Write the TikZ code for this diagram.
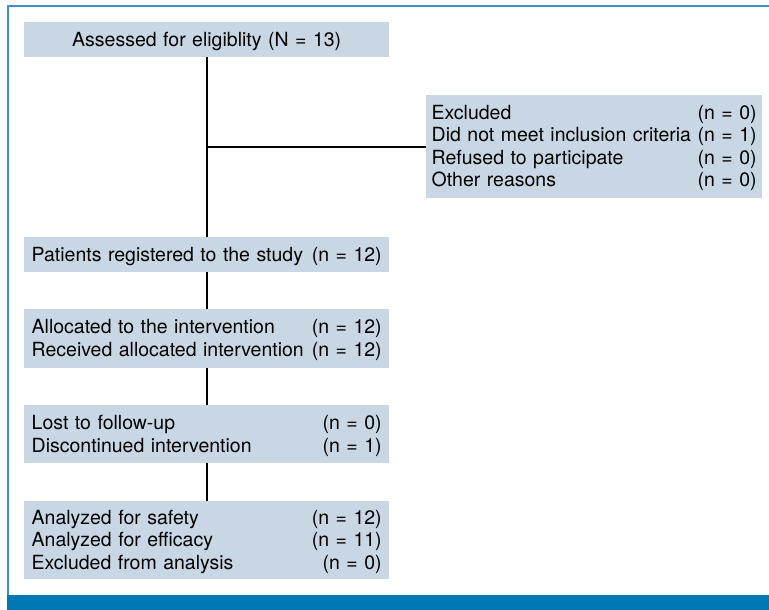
\documentclass[tikz,border=0pt]{standalone}
\usepackage{fontspec}
\setmainfont{TeX Gyre Heros}
\definecolor{boxfill}{HTML}{C9D6E3}
\definecolor{bandblue}{HTML}{0078B4}
\definecolor{frameblue}{HTML}{3A8FC6}
\begin{document}
\begin{tikzpicture}[x=1pt,y=-1pt,
  box/.style={rectangle, fill=boxfill, anchor=north west, inner xsep=7.5pt, inner ysep=0pt,
    text width=350pt, align=left, font=\fontsize{19.5}{22.5}\selectfont,
    execute at end node={\endgraf\vspace{-3pt}}},
  exbox/.style={box, inner xsep=5.5pt, text width=325pt},
  conn/.style={draw=black, line width=2pt}]
\useasboundingbox (0,0) rectangle (769,610);
\fill[white] (0,0) rectangle (769,610);
\draw[frameblue, line width=1.8pt] (8,596) -- (8,5.8) -- (769,5.8);
\fill[bandblue] (7,595) rectangle (769,610);

\node[box, align=center, minimum height=35pt] (b1) at (24,22) {Assessed for eligiblity (N = 13)};
\node[exbox, minimum height=103pt] (ex) at (426,95) {Excluded\hfill(n = 0)\\Did not meet inclusion criteria\hfill(n = 1)\\Refused to participate\hfill(n = 0)\\Other reasons\hfill(n = 0)};
\node[box, minimum height=35pt] (b2) at (24,237) {Patients registered to the study\hfill(n = 12)};
\node[box, minimum height=59pt] (b3) at (24,309) {Allocated to the intervention\hfill(n = 12)\\Received allocated intervention\hfill(n = 12)};
\node[box, minimum height=58pt] (b4) at (24,405) {Lost to follow-up\hfill(n = 0)\\Discontinued intervention\hfill(n = 1)};
\node[box, minimum height=78pt] (b5) at (24,501) {Analyzed for safety\hfill(n = 12)\\Analyzed for efficacy\hfill(n = 11)\\Excluded from analysis\hfill(n = 0)};

\draw[conn] (b1.south) -- (b2.north);
\draw[conn] (ex.west) -- (ex.west -| b1.south);
\draw[conn] (b2.south) -- (b3.north);
\draw[conn] (b3.south) -- (b4.north);
\draw[conn] (b4.south) -- (b5.north);
\end{tikzpicture}
\end{document}
